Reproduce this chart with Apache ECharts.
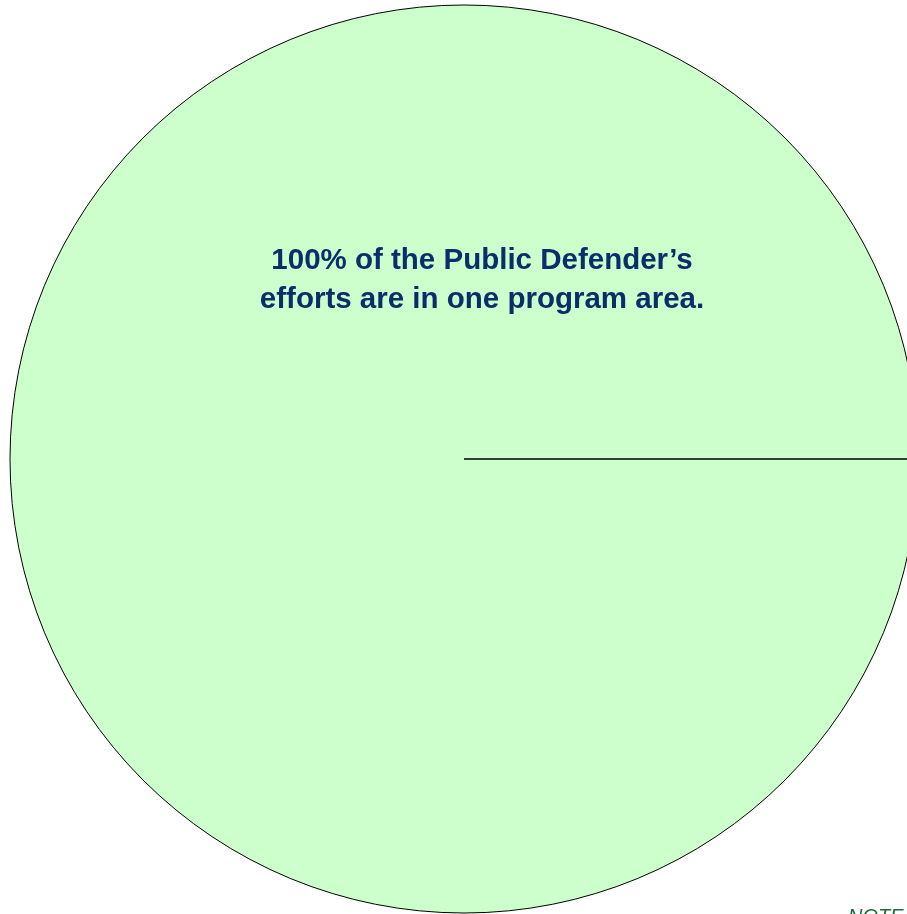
<!DOCTYPE html>
<html>
<head>
<meta charset="utf-8">
<style>
  html, body { margin: 0; padding: 0; background: #ffffff; }
  #chart { width: 907px; height: 914px; }
</style>
<script src="https://cdn.jsdelivr.net/npm/echarts@6/dist/echarts.min.js"></script>
</head>
<body>
<div id="chart"></div>
<script>
// Program areas and their share of the Public Defender's efforts (percent)
const programAreas = ['Public Defense', ''];
const shares = [100, 0];
const sliceColors = ['#CCFFCC', '#CCFFCC'];

const headline = '100% of the Public Defender\u2019s\nefforts are in one program area.';
const noteText = 'NOTE';

const chart = echarts.init(document.getElementById('chart'), null, { renderer: 'canvas' });

chart.setOption({
  backgroundColor: '#ffffff',
  animation: false,
  title: [
    {
      text: headline,
      left: 477,
      top: 236,
      textAlign: 'center',
      textStyle: {
        fontFamily: 'Liberation Sans',
        fontWeight: 'bold',
        fontSize: 29.5,
        lineHeight: 39,
        color: '#0B2D6B'
      }
    },
    {
      text: noteText,
      left: 843,
      top: 902,
      textStyle: {
        fontFamily: 'Liberation Sans',
        fontStyle: 'italic',
        fontWeight: 'normal',
        fontSize: 20,
        color: '#1E6B3C'
      }
    }
  ],
  series: [
    {
      type: 'pie',
      center: [464, 459],
      radius: [0, 454],
      startAngle: 0,
      clockwise: true,
      minAngle: 0,
      stillShowZeroSum: true,
      silent: true,
      label: { show: false },
      labelLine: { show: false },
      itemStyle: { borderColor: '#000000', borderWidth: 1 },
      data: programAreas.map((name, i) => ({
        name: name,
        value: shares[i],
        itemStyle: { color: sliceColors[i] }
      }))
    }
  ]
});
</script>
</body>
</html>
